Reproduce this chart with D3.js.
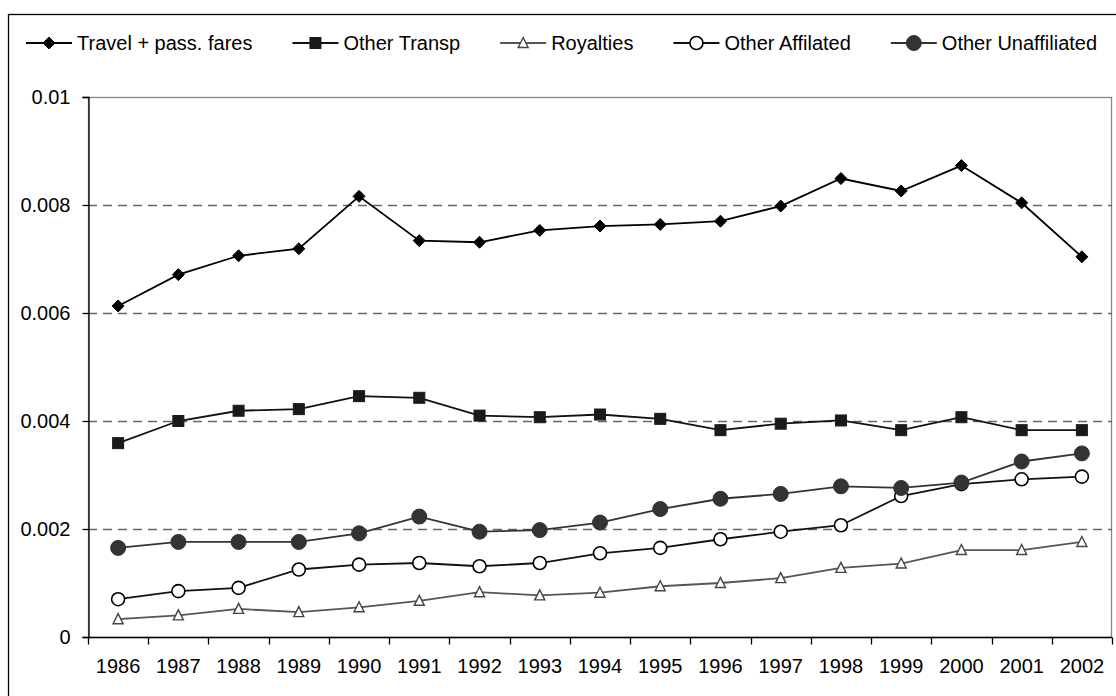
<!DOCTYPE html>
<html>
<head>
<meta charset="utf-8">
<script src="https://cdn.jsdelivr.net/npm/d3@7"></script>
<style>
  body { margin: 0; background: #fff; }
  text { font-family: "Liberation Sans", Arial, sans-serif; }
</style>
</head>
<body>
<div id="chart"></div>
<script>
// data
var years = ["1986","1987","1988","1989","1990","1991","1992","1993","1994","1995","1996","1997","1998","1999","2000","2001","2002"]
var travel = [0.00613,0.00671,0.00706,0.00719,0.00816,0.00734,0.00731,0.00753,0.00761,0.00764,0.00770,0.00798,0.00849,0.00826,0.00873,0.00804,0.00704]
var otherTransp = [0.00359,0.00400,0.00419,0.00422,0.00446,0.00443,0.00410,0.00407,0.00412,0.00404,0.00383,0.00395,0.00401,0.00383,0.00407,0.00383,0.00383]
var royalties = [0.00033,0.00040,0.00052,0.00046,0.00055,0.00067,0.00083,0.00077,0.00082,0.00094,0.00100,0.00109,0.00128,0.00136,0.00161,0.00161,0.00176]
var affiliated = [0.00070,0.00085,0.00091,0.00125,0.00134,0.00137,0.00131,0.00137,0.00155,0.00165,0.00181,0.00195,0.00207,0.00261,0.00283,0.00292,0.00297]
var unaffiliated = [0.00165,0.00176,0.00176,0.00176,0.00192,0.00223,0.00195,0.00198,0.00212,0.00237,0.00256,0.00265,0.00279,0.00276,0.00286,0.00325,0.00340]
var yTicks = [0, 0.002, 0.004, 0.006, 0.008, 0.01]
var yTickLabels = ["0", "0.002", "0.004", "0.006", "0.008", "0.01"]

var series = [
	{name: "Travel + pass. fares", values: travel, shape: "diamond", line: "#000", fill: "#000", stroke: "#000"},
	{name: "Other Transp", values: otherTransp, shape: "square", line: "#111", fill: "#1a1a1a", stroke: "#1a1a1a"},
	{name: "Royalties", values: royalties, shape: "triangle", line: "#555", fill: "#fff", stroke: "#444"},
	{name: "Other Affilated", values: affiliated, shape: "open", line: "#111", fill: "#fff", stroke: "#000"},
	{name: "Other Unaffiliated", values: unaffiliated, shape: "dot", line: "#333", fill: "#333", stroke: "#333"}
]

var width = 1116, height = 696
var margin = {left: 88, right: 4, top: 97, bottom: 59}

var svg = d3.select("#chart").append("svg")
	.attr("width", width)
	.attr("height", height)

// outer chart frame (runs past the right and bottom edge)
svg.append("rect")
	.attr("x", 8.5).attr("y", 14.5)
	.attr("width", 1200).attr("height", 800)
	.attr("fill", "none").attr("stroke", "#000").attr("stroke-width", 1.3)

var x = d3.scaleBand()
	.domain(years)
	.range([margin.left, width - margin.right])

var y = d3.scaleLinear()
	.domain([0, 0.01])
	.range([height - margin.bottom, margin.top])

var plotG = svg.append("g")

// plot area border
plotG.append("rect")
	.attr("x", margin.left + 0.5).attr("y", y(0.01) + 0.5)
	.attr("width", x.range()[1] - margin.left - 1)
	.attr("height", y(0) - y(0.01))
	.attr("fill", "none").attr("stroke", "#888").attr("stroke-width", 1.3)

// dashed gridlines
plotG.selectAll(".grid")
	.data(yTicks.filter(function(d) { return d > 0 && d < 0.01 }))
	.enter().append("line")
	.attr("x1", margin.left).attr("x2", x.range()[1])
	.attr("y1", function(d) { return Math.round(y(d)) + 0.5 })
	.attr("y2", function(d) { return Math.round(y(d)) + 0.5 })
	.attr("stroke", "#666").attr("stroke-width", 1.3)
	.attr("stroke-dasharray", "9,6")

// y axis
var yAxis = svg.append("g")
	.attr("transform", "translate(" + (margin.left + 0.5) + ",0)")
	.call(d3.axisLeft(y).tickValues(yTicks).tickSize(6).tickPadding(12)
		.tickFormat(function(d, i) { return yTickLabels[i] }))
yAxis.select(".domain").attr("stroke", "#000").attr("stroke-width", 1.3)
yAxis.selectAll(".tick line").attr("stroke", "#000").attr("stroke-width", 1.3)
yAxis.selectAll("text").attr("font-size", "20px").attr("fill", "#000")
	.style("font-family", "'Liberation Sans', Arial, sans-serif")

// x axis: labels centred in bands, ticks on band edges
var xAxis = svg.append("g")
	.attr("transform", "translate(0," + (y(0) + 0.5) + ")")
	.call(d3.axisBottom(x).tickSize(0).tickPadding(21))
xAxis.select(".domain").remove()
xAxis.selectAll("text").attr("font-size", "20px").attr("fill", "#000")
	.style("font-family", "'Liberation Sans', Arial, sans-serif")
xAxis.append("line")
	.attr("x1", margin.left).attr("x2", x.range()[1])
	.attr("stroke", "#000").attr("stroke-width", 1.3)
var edges = years.map(function(d) { return x(d) }).concat([x.range()[1]])
xAxis.selectAll(".edge")
	.data(edges)
	.enter().append("line")
	.attr("x1", function(d) { return Math.round(d) + 0.5 })
	.attr("x2", function(d) { return Math.round(d) + 0.5 })
	.attr("y1", 0).attr("y2", 7)
	.attr("stroke", "#000").attr("stroke-width", 1.3)

function drawMarker(g, shape, s) {
	if (shape == "diamond") {
		g.append("path").attr("d", "M0,-6L6,0L0,6L-6,0Z")
	} else if (shape == "square") {
		g.append("rect").attr("x", -5.5).attr("y", -5.5).attr("width", 11).attr("height", 11)
	} else if (shape == "triangle") {
		g.append("path").attr("d", "M0,-5.5L5,4.5L-5,4.5Z").attr("stroke-width", 1.4)
	} else if (shape == "open") {
		g.append("circle").attr("r", 6.5).attr("stroke-width", 1.6)
	} else {
		g.append("circle").attr("r", 7.5)
	}
	g.selectAll("*").attr("fill", s.fill).attr("stroke", s.stroke)
}

var line = d3.line()
	.x(function(d, i) { return x(years[i]) + x.bandwidth() / 2 })
	.y(function(d) { return y(d) })

series.forEach(function(s) {
	svg.append("path")
		.datum(s.values)
		.attr("d", line)
		.attr("fill", "none")
		.attr("stroke", s.line)
		.attr("stroke-width", 1.8)
	svg.selectAll(null)
		.data(s.values)
		.enter().append("g")
		.attr("transform", function(d, i) { return "translate(" + (x(years[i]) + x.bandwidth() / 2) + "," + y(d) + ")" })
		.each(function() { drawMarker(d3.select(this), s.shape, s) })
})

// legend
var legend = svg.append("g").attr("transform", "translate(26,43)")
var lx = 0
series.forEach(function(s) {
	var item = legend.append("g").attr("transform", "translate(" + lx + ",0)")
	item.append("line").attr("x1", 0).attr("x2", 46)
		.attr("stroke", s.line).attr("stroke-width", 1.8)
	var m = item.append("g").attr("transform", "translate(23,0)")
	drawMarker(m, s.shape, s)
	var t = item.append("text")
		.attr("x", 51).attr("y", 7)
		.attr("font-size", "20px")
		.text(s.name)
	lx += 51 + t.node().getComputedTextLength() + 40
})
</script>
</body>
</html>
